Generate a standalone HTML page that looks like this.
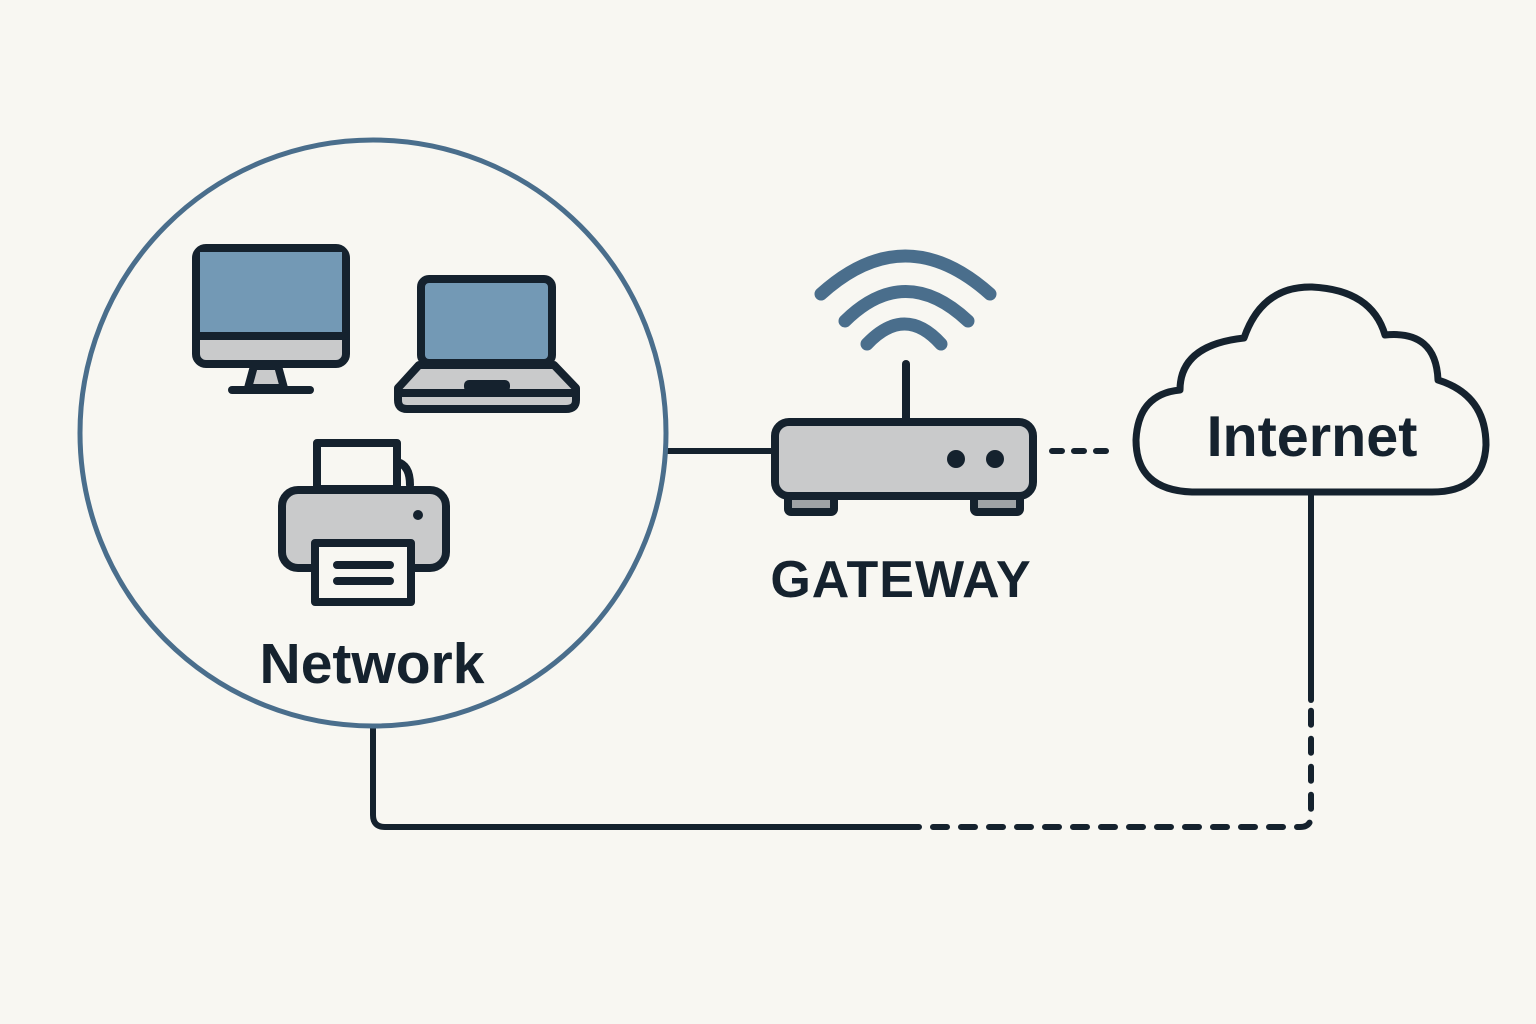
<!DOCTYPE html>
<html><head><meta charset="utf-8"><style>html,body{margin:0;padding:0;background:#f8f7f2}svg{display:block}</style></head>
<body>
<svg width="1536" height="1024" viewBox="0 0 1536 1024" xmlns="http://www.w3.org/2000/svg">
<rect width="1536" height="1024" fill="#f8f7f2"/>
<g fill="none" stroke="#15222e" stroke-width="6" stroke-linecap="round" stroke-linejoin="round">
<line x1="668" y1="451" x2="775" y2="451"/>
<line x1="1052" y1="451" x2="1118" y2="451" stroke-dasharray="10 12"/>
<path d="M373 726 V815 Q373 827 385 827 H905"/>
<path d="M905 827 H1300 Q1311 827 1311 816 V700" stroke-dasharray="14 14"/>
<line x1="1311" y1="494" x2="1311" y2="700"/>
</g>
<circle cx="373" cy="433" r="293" fill="#f8f7f2" stroke="#4a6e8c" stroke-width="5"/>
<g stroke="#15222e" stroke-width="8" stroke-linejoin="round" stroke-linecap="round">
<path d="M254 366 L248 388 H284 L278 366 Z" fill="#c9cacb"/>
<line x1="232" y1="390" x2="310" y2="390"/>
<rect x="196" y="248" width="150" height="116" rx="10" fill="#c9cacb"/>
<rect x="200" y="252" width="142" height="82" fill="#7399b5" stroke="none"/>
<line x1="198" y1="336" x2="344" y2="336"/>
<rect x="421" y="279" width="131" height="84" rx="8" fill="#7399b5"/>
<path d="M419 365 H554 L576 388 V400 Q576 409 566 409 H407 Q398 409 398 400 V388 Z" fill="#c9cacb"/>
<line x1="400" y1="393" x2="574" y2="393"/>
<rect x="466" y="382" width="42" height="8" rx="3" fill="#15222e" stroke-width="4"/>
<rect x="317" y="443" width="80" height="46" fill="#f8f7f2"/>
<path d="M397 462 Q410 465 410 485" fill="none"/>
<rect x="282" y="490" width="164" height="78" rx="16" fill="#c9cacb"/>
<rect x="315" y="543" width="96" height="59" fill="#f8f7f2"/>
<line x1="337" y1="565" x2="390" y2="565"/>
<line x1="337" y1="581" x2="390" y2="581"/>
</g>
<circle cx="418" cy="515" r="5" fill="#15222e"/>
<g fill="none" stroke="#4a6e8c" stroke-width="13" stroke-linecap="round">
<path d="M867 344 Q905 304 941 344"/>
<path d="M845 321 Q905 262 968 321"/>
<path d="M821 294 Q905 218 990 294"/>
</g>
<g stroke="#15222e" stroke-width="8" stroke-linecap="round" stroke-linejoin="round">
<line x1="906" y1="364" x2="906" y2="420"/>
<rect x="788" y="492" width="46" height="20" rx="3" fill="#9fa3a6"/>
<rect x="974" y="492" width="46" height="20" rx="3" fill="#9fa3a6"/>
<rect x="775" y="422" width="258" height="74" rx="14" fill="#c9cacb"/>
</g>
<circle cx="956" cy="459" r="9" fill="#15222e"/>
<circle cx="995" cy="459" r="9" fill="#15222e"/>
<path d="M1192 492 Q1136 490 1136 440 Q1138 394 1180 390 Q1180 345 1244 338 Q1262 286 1312 287 Q1372 290 1385 335 Q1436 330 1438 380 Q1486 395 1486 445 Q1484 492 1432 492 Z" fill="#f8f7f2" stroke="#15222e" stroke-width="7" stroke-linejoin="round"/>
<g font-family="Liberation Sans, sans-serif" font-weight="bold" fill="#15222e" text-anchor="middle">
<text x="1312" y="456" font-size="57.5">Internet</text>
<text x="901" y="597" font-size="52" letter-spacing="1">GATEWAY</text>
<text x="372" y="683" font-size="57">Network</text>
</g>
</svg>
</body></html>
